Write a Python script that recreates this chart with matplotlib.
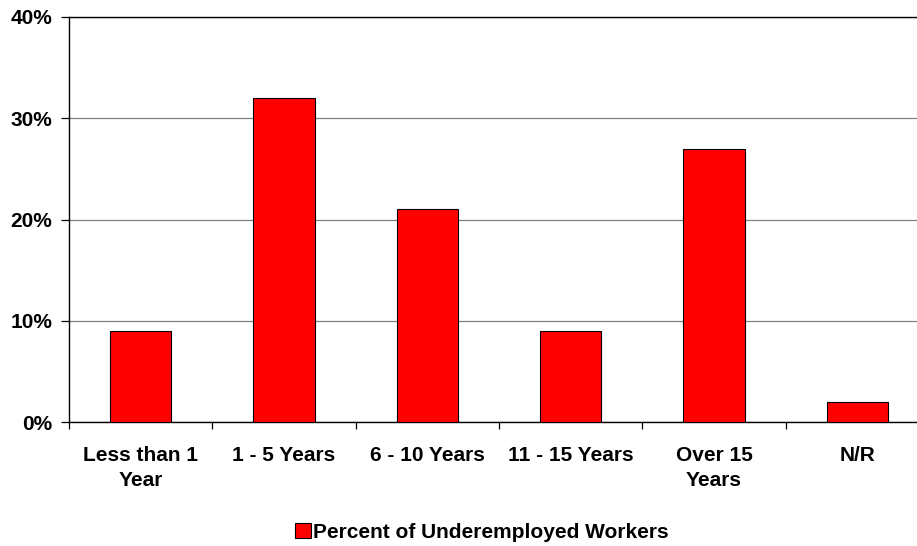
import matplotlib
matplotlib.use("Agg")
import matplotlib.pyplot as plt
from matplotlib.patches import Patch

categories = ["Less than 1\nYear", "1 - 5 Years", "6 - 10 Years", "11 - 15 Years", "Over 15\nYears", "N/R"]
values = [9, 32, 21, 9, 27, 2]
series_name = "Percent of Underemployed Workers"
yticks = [0, 10, 20, 30, 40]
ytick_labels = ["0%", "10%", "20%", "30%", "40%"]

plt.rcParams['font.family'] = ['Liberation Sans', 'DejaVu Sans']

W, H = 917, 546
fig = plt.figure(figsize=(W / 100, H / 100), dpi=100)
left, right, top, bottom = 69, 929, 17, 422
ax = fig.add_axes([left / W, 1 - bottom / H, (right - left) / W, (bottom - top) / H])

x = list(range(len(categories)))
ax.bar(x, values, width=0.43, color="#ff0000", edgecolor="black", linewidth=0.8, zorder=3)

fs = 15
ax.set_xlim(-0.5, len(categories) - 0.5)
ax.set_ylim(0, 40)
ax.set_yticks(yticks)
ax.set_yticklabels(ytick_labels, fontsize=fs, fontweight="bold")
ax.yaxis.grid(True, color="#808080", linewidth=0.9, zorder=0)
ax.set_axisbelow(True)

ax.set_xticks(x)
ax.set_xticklabels(categories, fontsize=fs, fontweight="bold", linespacing=1.45)
ax.tick_params(axis="x", length=0, pad=17)
ax.set_xticks([i - 0.5 for i in range(len(categories) + 1)], minor=True)
ax.tick_params(axis="x", which="minor", length=5, width=0.9, direction="out")
ax.tick_params(axis="y", length=6, width=0.9, direction="out", pad=6)

ax.spines["right"].set_visible(False)
for s in ["top", "left", "bottom"]:
    ax.spines[s].set_color("black")
    ax.spines[s].set_linewidth(1.0)

handles = [Patch(facecolor="#ff0000", edgecolor="black", linewidth=0.8, label=series_name)]
fig.legend(handles=handles, loc="center", bbox_to_anchor=(482 / W, 1 - 532 / H),
           frameon=False, prop={"size": fs, "weight": "bold"},
           handlelength=0.75, handleheight=0.75, handletextpad=0.1)

fig.savefig("out.png", dpi=100)
